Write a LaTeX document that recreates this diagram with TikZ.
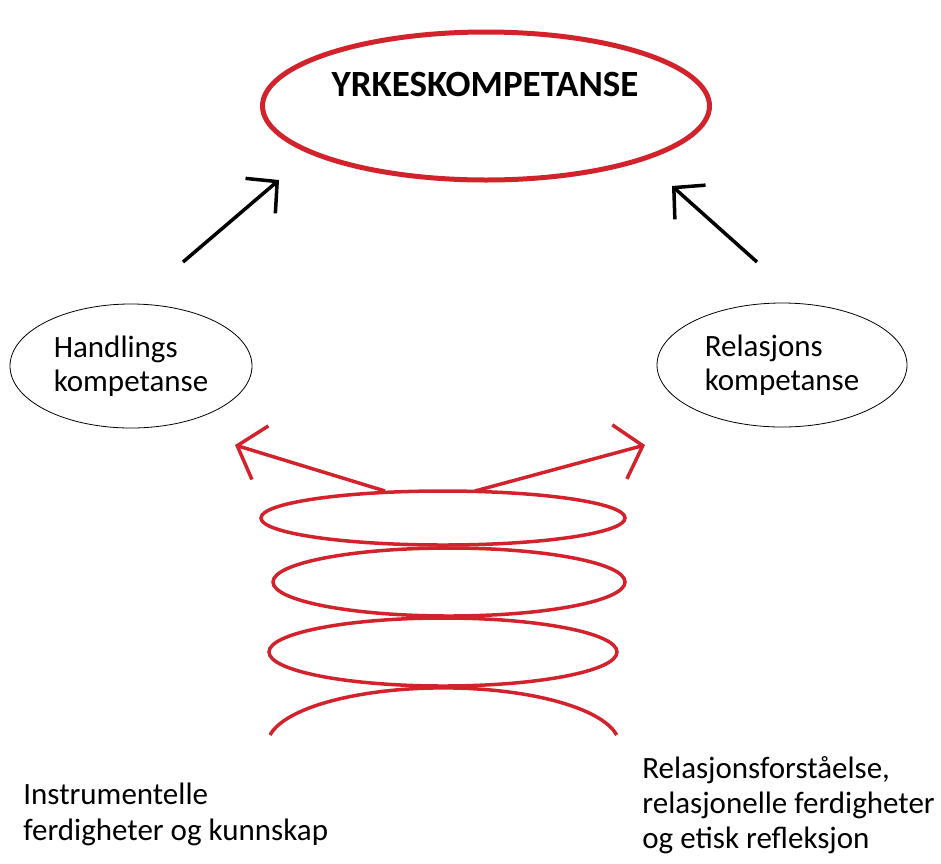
\documentclass[tikz,border=0pt]{standalone}
\usepackage{fontspec}
\setmainfont{Carlito}
\usetikzlibrary{shapes.geometric,arrows.meta,positioning}
\definecolor{rod}{RGB}{210,35,45}

\begin{document}
\begin{tikzpicture}[x=1pt, y=-1pt, thick,
  big/.style = {draw=rod, ellipse, line width=5pt, minimum width=447pt, minimum height=148pt, inner sep=0pt},
  small/.style = {draw, ellipse, line width=0.8pt, minimum width=242pt, minimum height=124pt, align=left, inner sep=0pt, font=\fontsize{31}{34}\selectfont},
  txt/.style = {anchor=north west, align=left, inner sep=0pt, font=\fontsize{31}{36}\selectfont},
  pil/.style = {-{Straight Barb[length=22pt,width=46pt]}, line width=3.5pt},
  rodpil/.style = {-{Straight Barb[length=24pt,width=56pt]}, draw=rod, line width=3.5pt},
  fjaer/.style = {draw=rod, line width=3.5pt}]
\useasboundingbox (0,0) rectangle (941,863);

\node[big] (yrke) at (486,106) {};
\node[font=\bfseries\fontsize{37}{44}\selectfont] (tittel) at (485,84) {YRKESKOMPETANSE};

\node[small] (handling) at (131,366) {Handlings\\kompetanse};
\node[small, minimum width=250pt] (relasjon) at (782,365) {Relasjons\\kompetanse};

% piler opp mot yrkeskompetanse
\coordinate (a1) at (183,262);
\coordinate (a2) at (279,180);
\coordinate (b1) at (757,262);
\coordinate (b2) at (672,186);
\draw[pil] (a1) -- (a2);
\draw[pil] (b1) -- (b2);

% fjaera
\draw[fjaer] (443,518) ellipse [x radius=182, y radius=27];
\draw[fjaer] (449,582) ellipse [x radius=176, y radius=34];
\draw[fjaer] (443,652) ellipse [x radius=174, y radius=34];
\draw[fjaer] (270,735) arc [start angle=190, end angle=350, x radius=176, y radius=57];

\coordinate (s1) at (385,491);
\coordinate (s2) at (475,491);
\coordinate (v) at (235,445);
\coordinate (h) at (645,445);
\draw[rodpil] (s1) -- (v);
\draw[rodpil] (s2) -- (h);

\node[txt] (instr) at (23,783) {Instrumentelle\\ferdigheter og kunnskap};
\node[txt, font=\fontsize{31}{35}\selectfont] (relf) at (642,756) {Relasjonsforståelse,\\relasjonelle ferdigheter\\og etisk refleksjon};

\end{tikzpicture}
\end{document}
